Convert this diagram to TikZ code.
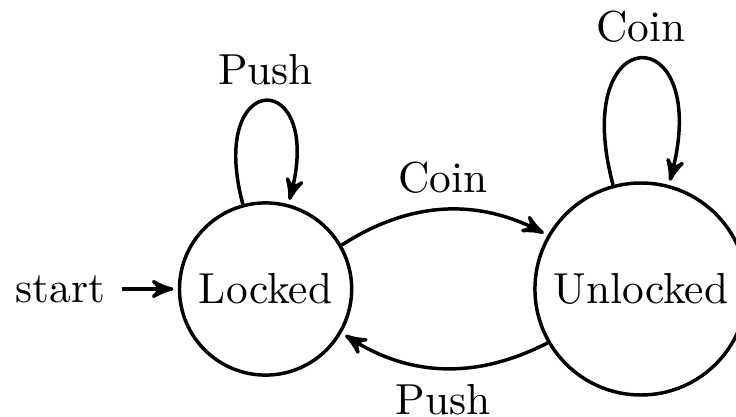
\documentclass[tikz,border=0pt]{standalone}
\usepackage{amsmath}
\usepackage{amssymb}
\usepackage{tikz}
\usepackage{xcolor}
\usetikzlibrary{automata,arrows}

\begin{document}
\begin{tikzpicture}[
        ->, >=stealth', shorten >=1pt, auto, thick,
        declare function={
            Dist=3.04;
        }
    ]
        \useasboundingbox (-61.2pt, -29.3pt) rectangle (108.4pt, 66.6pt);

        \node[state, initial] (locked) at (0, 0) {Locked};
        \node[state] (unlocked) at (Dist, 0) {Unlocked};

        \path (locked) edge[loop above] node {Push} (locked)
                       edge[bend left] node {Coin} (unlocked)
              (unlocked) edge[loop above] node {Coin} (unlocked)
                          edge[bend left] node {Push} (locked);
    \end{tikzpicture}
\end{document}
